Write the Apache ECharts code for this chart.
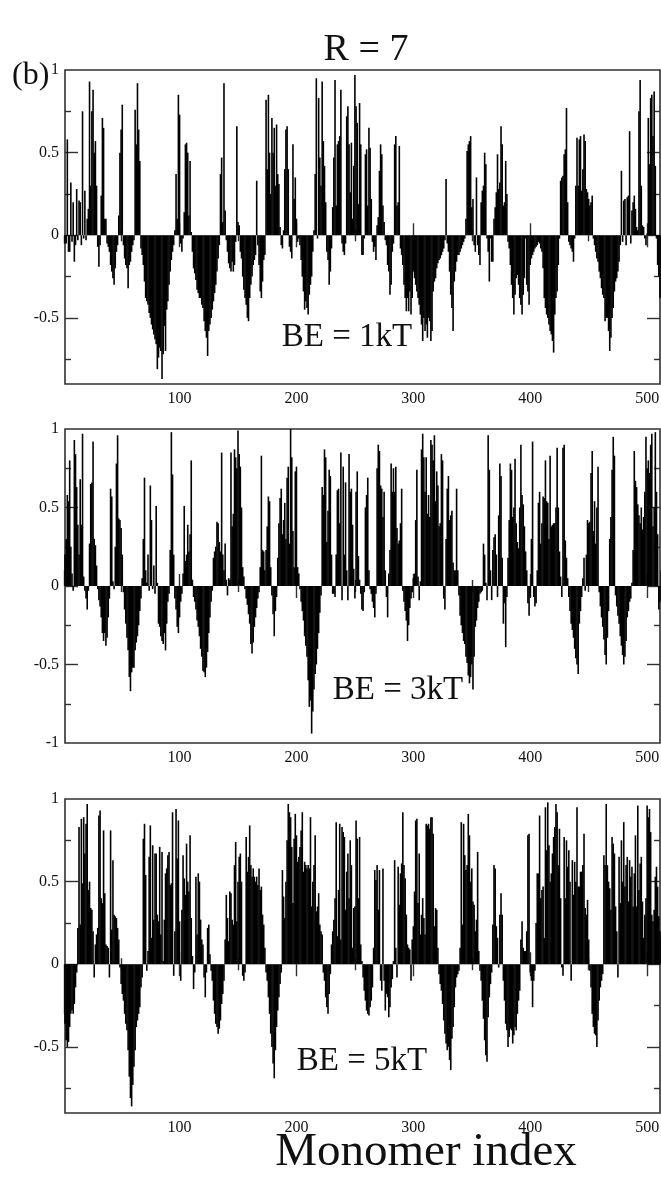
<!DOCTYPE html>
<html>
<head>
<meta charset="utf-8">
<script src="https://cdn.jsdelivr.net/npm/echarts@6.0.0/dist/echarts.min.js"></script>
<style>
  html, body { margin: 0; padding: 0; background: #ffffff; }
  #chart { width: 661px; height: 1178px; }
</style>
</head>
<body>
<div id="chart"></div>
<script>
// Per-monomer values (index 1..512) for the three binding energies.
const be1 = [
  -0.05,-0.05,-0.05,0.58,-0.1,-0.1,0.32,-0.04,0.2,-0.16,-0.06,0.28,-0.03,0.21,0.2,-0.06,
  0.75,-0.02,0.27,-0.03,0.1,0.16,0.93,0.3,0.75,0.88,0.5,0.57,0.3,-0.07,-0.19,-0.06,
  0.24,0.71,0.65,0.1,0.1,-0.05,-0.07,-0.1,-0.18,-0.22,-0.26,-0.3,-0.2,-0.1,-0.06,0.12,
  0.5,0.64,0.79,-0.06,-0.14,-0.18,-0.2,-0.32,-0.18,-0.16,-0.1,-0.06,-0.03,0.76,0.55,0.92,
  0.64,0.45,-0.08,-0.12,-0.18,-0.28,-0.38,-0.4,-0.42,-0.47,-0.5,-0.54,-0.57,-0.6,-0.63,-0.66,
  -0.81,-0.74,-0.68,-0.7,-0.87,-0.72,-0.55,-0.7,-0.45,-0.4,-0.3,-0.22,-0.15,-0.1,-0.06,0.03,
  0.37,0.1,0.85,0.73,-0.05,-0.1,-0.02,0.14,0.55,0.56,0.5,0.12,0.45,0.02,-0.1,-0.2,
  -0.23,-0.27,-0.33,-0.35,-0.38,-0.38,-0.42,-0.44,-0.52,-0.58,-0.62,-0.73,-0.58,-0.54,-0.5,-0.45,
  -0.4,-0.35,-0.3,-0.22,-0.14,-0.06,0.37,0.47,0.08,0.92,0.15,-0.03,-0.1,-0.17,-0.2,-0.22,
  -0.16,-0.22,-0.18,-0.04,0.66,0.08,0.06,-0.1,-0.14,-0.25,-0.33,-0.38,-0.42,-0.5,-0.52,-0.38,
  -0.3,-0.25,-0.18,-0.15,-0.12,0.33,-0.06,-0.18,-0.34,-0.38,-0.28,-0.15,-0.12,0.82,0.4,0.85,
  0.5,0.25,0.71,0.5,0.65,0.3,0.67,0.37,0.31,0.05,-0.06,-0.08,0.03,0.4,0.64,0.66,
  0.4,-0.07,-0.1,-0.14,0.55,0.22,0.35,0.1,-0.04,-0.02,-0.06,-0.15,-0.25,-0.34,-0.45,-0.4,
  -0.44,-0.48,-0.36,-0.3,-0.25,-0.1,0.03,0.37,0.95,-0.02,0.83,0.47,0.3,0.93,0.57,0.42,
  0.2,-0.1,-0.15,-0.3,-0.22,-0.08,0.17,0.47,0.94,0.18,0.55,0.57,0.6,0.88,-0.05,-0.1,
  -0.12,-0.05,0.72,0.78,0.55,0.26,0.56,0.1,0.42,0.97,0.78,0.68,0.19,0.8,0.55,-0.12,
  -0.12,-0.02,0.49,0.52,0.18,0.65,0.53,0.22,-0.04,-0.1,-0.07,-0.15,0.06,0.11,0.39,0.55,
  0.49,0.18,0.08,-0.03,-0.06,-0.18,-0.22,-0.36,-0.3,-0.1,-0.05,0.55,0.6,0.18,0.2,0.54,
  -0.08,-0.12,-0.18,-0.3,-0.38,-0.46,-0.38,-0.46,-0.34,-0.48,-0.38,-0.22,-0.26,-0.3,-0.34,-0.38,
  -0.42,-0.48,-0.54,-0.64,-0.5,-0.58,-0.54,-0.62,-0.5,-0.52,-0.64,-0.58,-0.34,-0.28,-0.26,-0.2,
  -0.17,-0.15,-0.14,-0.12,-0.1,-0.08,-0.03,0.34,-0.05,-0.1,-0.22,-0.36,-0.44,-0.58,-0.28,-0.22,
  -0.16,-0.12,-0.12,-0.1,-0.08,-0.06,-0.04,-0.02,0.1,0.51,0.55,0.57,0.6,0.17,0.22,-0.06,
  -0.1,0.35,-0.06,-0.12,-0.18,0.2,0.27,0.3,0.5,0.43,-0.02,-0.1,-0.28,-0.02,-0.16,-0.16,
  0.1,0.17,0.26,0.49,0.28,0.32,0.66,0.55,0.18,0.2,0.45,0.25,-0.04,-0.08,-0.18,-0.3,
  -0.38,-0.48,-0.36,-0.26,-0.24,-0.3,-0.38,-0.42,-0.48,-0.36,-0.26,-0.02,-0.3,-0.34,-0.42,-0.18,
  -0.14,-0.12,-0.1,-0.08,-0.07,-0.06,-0.04,-0.05,-0.08,-0.1,-0.2,-0.38,-0.44,-0.48,-0.5,-0.54,
  -0.58,-0.6,-0.64,-0.71,-0.48,-0.38,-0.34,-0.18,-0.02,0.33,0.35,0.36,0.49,0.52,0.77,0.2,
  -0.04,-0.06,-0.08,-0.1,-0.16,-0.02,0.3,0.59,0.3,0.58,0.6,0.27,0.4,0.61,0.57,0.28,
  0.26,0.22,0.18,0.2,0.24,-0.02,-0.06,-0.1,-0.14,-0.16,-0.22,-0.26,-0.32,-0.36,-0.38,-0.52,
  -0.5,-0.5,-0.58,-0.7,-0.62,-0.5,-0.44,-0.34,-0.28,-0.26,-0.22,-0.16,-0.06,0.39,-0.04,0.21,
  0.22,-0.06,0.23,0.24,0.63,-0.05,0.15,0.2,0.24,0.16,0.05,0.03,0.75,0.94,0.3,0.06,
  0.05,-0.02,-0.06,0.01,0.71,0.43,0.83,0.85,0.6,0.87,0.42,-0.02,-0.18,-0.25,-0.38,-0.2
];

const be3 = [
  0.1,0.2,0.3,0.58,0.54,0.8,0.25,0.08,-0.03,0.93,0.84,0.63,0.39,0.2,0.68,0.39,
  0.97,0.06,-0.03,-0.08,-0.15,-0.03,0.27,0.65,0.66,0.92,0.3,0.26,0.13,-0.02,-0.09,-0.13,
  -0.2,-0.3,-0.35,-0.3,-0.38,-0.33,-0.2,-0.08,0.62,0.57,0.03,-0.02,0.25,0.78,0.96,0.43,
  0.42,0.37,0.2,-0.04,-0.15,-0.24,-0.33,-0.41,-0.58,-0.67,-0.55,-0.52,-0.52,-0.41,-0.36,-0.32,
  -0.25,-0.16,-0.08,0.05,0.3,0.69,0.1,0.02,0.2,-0.03,0.64,0.42,-0.02,0.13,-0.05,0.51,
  0.02,-0.24,-0.26,-0.32,-0.35,-0.37,-0.3,-0.41,-0.24,-0.1,-0.05,0.23,0.98,0.71,0.2,-0.08,
  -0.15,-0.26,-0.3,-0.2,-0.1,-0.05,0.08,0.51,0.16,0.2,0.39,0.22,0.33,0.8,0.04,-0.07,
  -0.1,-0.15,-0.22,-0.26,-0.32,-0.4,-0.45,-0.54,-0.55,-0.58,-0.52,-0.42,-0.3,-0.2,-0.1,-0.03,
  0.18,0.22,0.25,0.41,0.4,0.28,0.22,0.85,0.2,0.1,0.27,0.04,-0.06,0.05,0.04,0.85,
  0.38,0.46,0.87,0.82,0.75,0.99,0.84,0.76,0.5,0.12,0.06,-0.02,-0.08,-0.12,-0.18,-0.24,
  -0.37,-0.43,-0.36,-0.26,-0.2,-0.14,-0.08,-0.04,0.12,0.83,0.23,0.22,0.1,0.23,0.38,0.57,
  0.54,0.12,-0.06,-0.18,-0.32,-0.16,-0.07,0.18,0.4,0.56,0.62,0.33,0.42,0.53,0.3,0.69,
  0.76,0.27,1.0,0.82,0.35,0.12,0.73,0.76,0.12,0.08,-0.02,-0.1,-0.16,-0.22,-0.32,-0.38,
  -0.45,-0.6,-0.77,-0.73,-0.94,-0.8,-0.66,-0.56,-0.5,-0.4,-0.3,-0.17,-0.06,0.63,0.58,0.87,
  0.82,0.28,0.48,0.74,0.7,0.2,-0.05,-0.05,-0.07,0.2,0.61,0.62,0.4,0.85,-0.09,0.76,
  0.2,0.66,0.1,-0.09,0.84,0.6,0.62,0.39,0.11,-0.08,0.6,0.73,0.19,0.04,-0.05,-0.15,
  -0.16,-0.04,0.5,0.58,0.69,0.1,-0.02,-0.05,-0.1,-0.14,-0.2,-0.05,0.75,0.9,0.86,0.64,
  0.62,0.44,0.6,0.1,-0.07,-0.2,0.08,0.23,0.78,0.6,0.75,0.6,0.76,0.37,0.27,0.29,
  0.4,0.62,-0.03,-0.1,-0.16,-0.22,-0.35,-0.25,-0.14,-0.08,-0.04,0.05,0.08,0.42,0.74,0.06,
  -0.09,0.03,0.87,0.97,0.82,0.6,0.82,0.46,0.58,0.44,0.93,0.9,0.8,0.96,0.54,0.73,
  0.64,0.38,0.4,0.84,0.8,-0.08,-0.15,0.3,0.62,0.7,0.42,0.45,0.48,0.15,0.1,0.1,
  0.62,0.1,-0.06,-0.19,-0.25,-0.3,-0.35,-0.37,-0.45,-0.49,-0.57,-0.62,-0.58,-0.5,-0.66,-0.45,
  -0.26,-0.22,-0.14,-0.1,-0.05,-0.04,-0.03,0.27,0.2,0.02,-0.09,0.96,0.74,0.1,-0.09,0.23,
  0.31,0.33,0.2,-0.07,0.45,0.78,0.7,0.18,-0.24,-0.11,-0.39,-0.07,0.18,0.42,0.78,0.74,
  0.44,0.5,0.81,0.4,0.28,0.24,0.5,0.9,0.58,0.52,0.38,0.22,0.1,-0.11,-0.19,-0.07,
  0.3,0.92,-0.07,-0.13,-0.11,0.1,0.53,0.6,0.27,0.4,0.57,0.56,0.8,0.54,0.53,0.3,
  0.83,0.38,0.39,0.4,0.4,0.5,0.88,0.5,0.22,0.06,-0.07,0.88,0.9,0.29,0.18,0.05,
  -0.07,-0.16,-0.24,-0.28,-0.33,-0.4,-0.46,-0.5,-0.56,-0.24,-0.16,-0.07,0.05,0.18,-0.03,0.2,
  0.42,0.4,0.41,0.72,0.86,0.35,0.54,0.27,0.5,0.76,-0.04,-0.13,-0.2,-0.26,-0.34,-0.44,
  -0.5,-0.33,-0.16,0.3,0.44,0.74,0.95,0.83,-0.06,-0.13,-0.19,-0.24,-0.32,-0.38,-0.44,-0.5,
  -0.45,-0.35,-0.2,-0.16,-0.1,-0.08,0.02,0.23,0.86,0.67,0.63,0.52,0.45,0.4,0.5,0.36,
  0.44,0.6,0.95,0.75,0.8,0.72,0.9,0.97,0.38,0.5,0.98,0.6,0.33,-0.15,-0.1,0.1
];

const be5 = [
  -0.3,-0.36,-0.46,-0.5,-0.47,-0.38,-0.3,-0.28,-0.3,-0.24,-0.14,-0.05,0.22,0.83,0.24,0.88,
  0.49,0.89,0.67,0.85,0.97,0.45,0.5,0.34,0.33,0.2,-0.08,0.12,0.18,0.22,0.9,0.93,
  0.4,0.37,0.81,0.43,0.12,0.11,0.1,-0.08,0.81,0.21,0.63,0.3,0.29,0.28,0.22,0.15,
  -0.02,-0.12,-0.18,-0.22,-0.3,-0.36,-0.4,-0.52,-0.68,-0.81,-0.86,-0.73,-0.62,-0.52,-0.38,-0.34,
  -0.3,-0.26,-0.14,-0.08,0.76,0.85,0.54,-0.04,0.08,0.65,0.84,0.16,0.72,0.27,0.67,0.67,
  0.3,0.26,0.71,0.18,0.68,0.02,0.27,0.55,0.58,0.66,0.68,0.48,0.49,0.92,-0.07,0.2,
  0.94,0.64,0.87,0.26,-0.1,0.33,0.66,0.52,0.42,0.73,0.5,0.44,0.78,0.28,0.05,-0.15,
  -0.05,0.53,0.18,0.55,0.5,0.27,0.15,0.12,-0.08,-0.2,-0.05,0.22,0.24,0.06,-0.04,-0.1,
  -0.22,-0.3,-0.36,-0.38,-0.42,-0.39,-0.34,-0.24,-0.18,-0.1,0.15,0.42,0.28,0.14,0.44,0.43,
  0.27,0.24,0.6,0.74,0.26,0.5,0.65,0.67,0.5,-0.07,-0.1,-0.05,0.77,0.56,0.65,0.84,
  0.6,0.53,0.58,0.53,0.5,0.53,0.48,0.58,0.45,0.47,0.3,0.24,0.1,-0.05,-0.1,-0.2,
  -0.3,-0.42,-0.5,-0.6,-0.69,-0.52,-0.38,-0.28,-0.2,-0.12,-0.05,0.57,0.41,0.28,0.5,0.75,
  0.97,0.92,0.89,0.71,0.37,0.76,0.91,0.78,0.62,0.65,0.71,0.81,0.92,0.56,0.62,0.6,
  0.58,0.6,0.58,0.89,0.35,0.5,0.6,0.78,0.32,0.35,0.43,0.24,0.2,0.18,-0.05,-0.1,
  -0.2,-0.26,-0.3,-0.18,-0.06,0.12,0.2,0.27,0.4,0.86,0.17,0.45,0.85,0.15,0.83,0.8,
  0.77,0.33,0.56,0.67,0.4,0.75,0.6,0.1,0.34,0.35,0.87,0.76,0.4,0.77,0.12,0.02,
  -0.08,-0.16,-0.22,-0.28,-0.3,-0.31,-0.26,-0.22,-0.14,0.1,0.57,0.51,0.6,0.33,0.57,-0.1,
  -0.16,0.58,-0.1,-0.28,-0.18,-0.2,-0.32,-0.26,-0.14,-0.09,0.02,0.63,0.1,-0.08,0.59,0.36,
  0.55,0.61,0.92,0.6,0.52,0.3,0.12,0.1,0.09,-0.1,0.15,0.23,0.44,0.87,0.88,0.37,
  0.67,0.18,0.3,0.4,0.28,0.18,0.85,0.84,0.85,0.82,0.89,0.89,0.79,0.23,0.34,0.33,
  0.1,-0.06,-0.12,-0.16,-0.24,-0.34,-0.42,-0.48,-0.52,-0.5,-0.58,-0.64,-0.45,-0.38,-0.26,-0.14,
  -0.08,-0.06,-0.04,0.1,0.86,0.24,0.85,0.66,0.57,0.6,0.91,0.78,0.5,0.58,0.38,0.36,
  0.2,0.27,0.68,0.08,-0.04,-0.1,-0.22,-0.33,-0.46,-0.55,-0.59,-0.32,-0.2,-0.12,-0.05,0.24,
  0.6,0.58,0.23,0.16,-0.02,0.3,0.43,0.3,-0.1,-0.22,-0.36,-0.4,-0.5,-0.44,-0.39,-0.4,
  -0.48,-0.43,-0.38,-0.4,-0.3,-0.22,-0.16,0.15,0.26,0.1,0.08,0.08,0.2,0.78,0.79,-0.05,
  -0.1,-0.26,-0.1,-0.04,0.25,0.55,0.55,0.9,0.4,0.45,0.47,0.16,0.95,0.69,0.98,0.72,
  0.5,0.55,0.67,0.77,0.83,0.97,0.92,0.6,0.82,0.4,-0.02,-0.07,0.77,0.4,0.75,0.59,
  0.69,0.5,-0.1,0.63,0.42,0.62,0.5,0.95,0.47,0.47,0.56,0.56,0.6,0.79,0.34,0.3,
  0.39,0.15,-0.04,-0.14,-0.3,-0.38,-0.42,-0.43,-0.5,-0.34,-0.22,-0.14,-0.1,-0.06,0.66,0.6,
  0.97,0.6,0.5,0.46,0.33,0.77,0.73,0.67,0.35,0.2,-0.08,0.65,0.37,0.75,0.5,0.86,
  0.47,0.6,0.65,0.38,0.63,0.53,0.59,0.35,0.55,0.78,0.35,0.96,0.45,0.61,0.65,0.38,
  0.16,0.3,0.4,0.96,0.89,0.94,0.8,0.3,0.26,0.33,0.53,0.59,0.47,0.29,0.2,0.15
];

// Panel annotations and axis tick positions
const panelLabels = ['BE = 1kT', 'BE = 3kT', 'BE = 5kT'];
const xMajorTicks = [100, 200, 300, 400, 500];
const xMinorTicks = [50, 150, 250, 350, 450];
const yMajorTicks = [-0.5, 0, 0.5];
const yMinorTicks = [-0.75, -0.25, 0.25, 0.75];
const yLabelsShort = [-0.5, 0, 0.5, 1];
const yLabelsFull = [-1, -0.5, 0, 0.5, 1];

const SERIF = '"Liberation Serif", "DejaVu Serif", "Times New Roman", serif';
const INK = '#111111';
const FRAME = '#303030';

const panels = [
  { values: be1, yMin: -0.9, yLabels: yLabelsShort, top: 70 },
  { values: be3, yMin: -1.0, yLabels: yLabelsFull, top: 429 },
  { values: be5, yMin: -0.9, yLabels: yLabelsShort, top: 799 }
];

const tickStyle = { color: FRAME, width: 1.4 };
const labelStyle = { fontFamily: SERIF, fontSize: 16, color: INK };

const grids = [], xAxes = [], yAxes = [], series = [];

panels.forEach((p, g) => {
  grids.push({
    left: 65, top: p.top, width: 595, height: 314,
    show: true, borderColor: FRAME, borderWidth: 1.6,
    containLabel: false, outerBoundsMode: 'none'
  });

  const xBase = { type: 'value', gridIndex: g, min: 2, max: 511,
    axisLine: { show: false }, splitLine: { show: false }, axisLabel: { show: false } };
  xAxes.push(
    Object.assign({}, xBase, { position: 'bottom',
      axisTick: { show: true, inside: true, length: 12, customValues: xMajorTicks, lineStyle: tickStyle },
      axisLabel: Object.assign({ show: true, customValues: xMajorTicks, margin: 7 }, labelStyle) }),
    Object.assign({}, xBase, { position: 'bottom',
      axisTick: { show: true, inside: true, length: 6, customValues: xMinorTicks, lineStyle: tickStyle } }),
    Object.assign({}, xBase, { position: 'top',
      axisTick: { show: true, inside: true, length: 12, customValues: xMajorTicks, lineStyle: tickStyle } }),
    Object.assign({}, xBase, { position: 'top',
      axisTick: { show: true, inside: true, length: 6, customValues: xMinorTicks, lineStyle: tickStyle } })
  );

  const yBase = { type: 'value', gridIndex: g, min: p.yMin, max: 1,
    axisLine: { show: false }, splitLine: { show: false }, axisLabel: { show: false } };
  yAxes.push(
    Object.assign({}, yBase, { position: 'left',
      axisTick: { show: true, inside: true, length: 13, customValues: yMajorTicks, lineStyle: tickStyle },
      axisLabel: Object.assign({ show: true, customValues: p.yLabels, margin: 6 }, labelStyle) }),
    Object.assign({}, yBase, { position: 'left',
      axisTick: { show: true, inside: true, length: 6, customValues: yMinorTicks, lineStyle: tickStyle } }),
    Object.assign({}, yBase, { position: 'right',
      axisTick: { show: true, inside: true, length: 13, customValues: yMajorTicks, lineStyle: tickStyle } }),
    Object.assign({}, yBase, { position: 'right',
      axisTick: { show: true, inside: true, length: 6, customValues: yMinorTicks, lineStyle: tickStyle } })
  );

  series.push({
    type: 'bar',
    xAxisIndex: g * 4,
    yAxisIndex: g * 4,
    data: p.values.map((v, i) => [i + 1, v]),
    barWidth: 1.6,
    itemStyle: { color: '#000000' },
    clip: true,
    silent: true,
    animation: false
  });
});

const textItem = (text, x, y, size, align) => ({
  type: 'text', x: x, y: y, silent: true,
  style: { text: text, font: size + 'px ' + SERIF, fill: INK,
           textAlign: align || 'center', textVerticalAlign: 'middle' }
});

const chart = echarts.init(document.getElementById('chart'), null, { renderer: 'canvas' });
chart.setOption({
  backgroundColor: '#ffffff',
  animation: false,
  grid: grids,
  xAxis: xAxes,
  yAxis: yAxes,
  series: series,
  graphic: [
    textItem('R = 7', 366, 50, 38),
    textItem('(b)', 12, 76, 32, 'left'),
    textItem(panelLabels[0], 347, 337, 33),
    textItem(panelLabels[1], 398, 690, 33),
    textItem(panelLabels[2], 362, 1061, 33),
    textItem('Monomer index', 426, 1153, 47)
  ]
});
</script>
</body>
</html>
